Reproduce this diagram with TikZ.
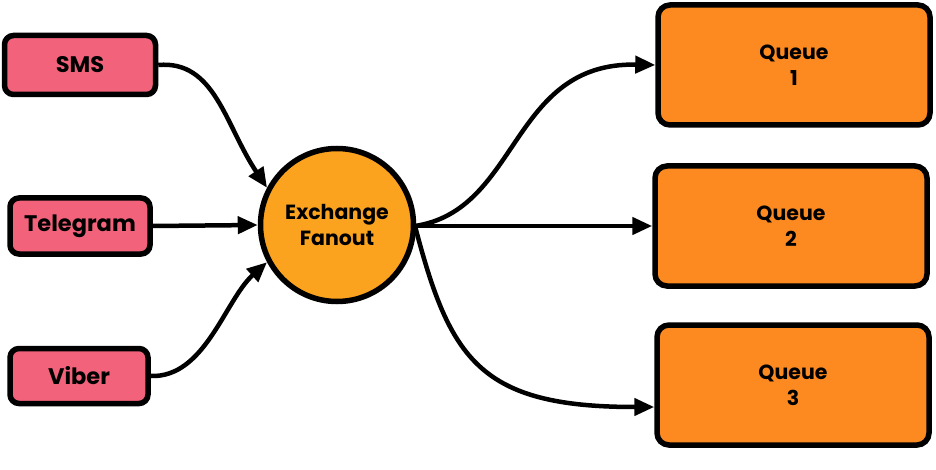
\documentclass[tikz,border=0pt]{standalone}
\usepackage{fontspec}
\setmainfont{Poppins}
\usetikzlibrary{arrows.meta}
\definecolor{pinkbox}{HTML}{F2627A}
\definecolor{circfill}{HTML}{FBA21E}
\definecolor{queuefill}{HTML}{FD8A20}
\tikzset{
  srcbox/.style={draw=black, line width=5.5pt, fill=pinkbox, rounded corners=9pt, font=\fontsize{22.5}{24}\selectfont\bfseries, inner sep=0pt},
  queuebox/.style={draw=black, line width=5.5pt, fill=queuefill, rounded corners=12pt, minimum width=272pt, minimum height=120pt, font=\fontsize{20.5}{26}\selectfont\bfseries, align=center, inner sep=0pt},
  hub/.style={circle, draw=black, line width=5.5pt, fill=circfill, minimum size=153pt, font=\fontsize{20.5}{26}\selectfont\bfseries, align=center, inner sep=0pt},
  conn/.style={line width=4.5pt, -{Triangle[length=20pt,width=17pt]}},
}
\begin{document}
\begin{tikzpicture}[x=1pt,y=-1pt]
\useasboundingbox (0,0) rectangle (936,470);
\node[srcbox, minimum width=151pt, minimum height=59pt] (sms) at (80,65) {SMS};
\node[srcbox, minimum width=140pt, minimum height=56pt] (tele) at (80,226) {Telegram};
\node[srcbox, minimum width=138pt, minimum height=55pt] (viber) at (79,376) {Viber};
\node[hub] (ex) at (337,225) {Exchange\\Fanout};
\node[queuebox] (q1) at (794,65) {Queue\\1};
\node[queuebox] (q2) at (791,226) {Queue\\2};
\node[queuebox] (q3) at (793,385) {Queue\\3};
\coordinate (exout) at (415,226);
\draw[conn] (sms.east) .. controls (215,60) and (225,125) .. (ex.152);
\draw[conn] (tele.east) -- (ex.west);
\draw[conn] (viber.east) .. controls (205,378) and (225,300) .. (ex.208);
\draw[conn] (exout) .. controls (520,210) and (510,62) .. (q1.west);
\draw[conn] (exout) -- (q2.west);
\draw[conn] (exout) .. controls (450,360) and (480,407) .. (q3.west |- 0,407);
\end{tikzpicture}
\end{document}
